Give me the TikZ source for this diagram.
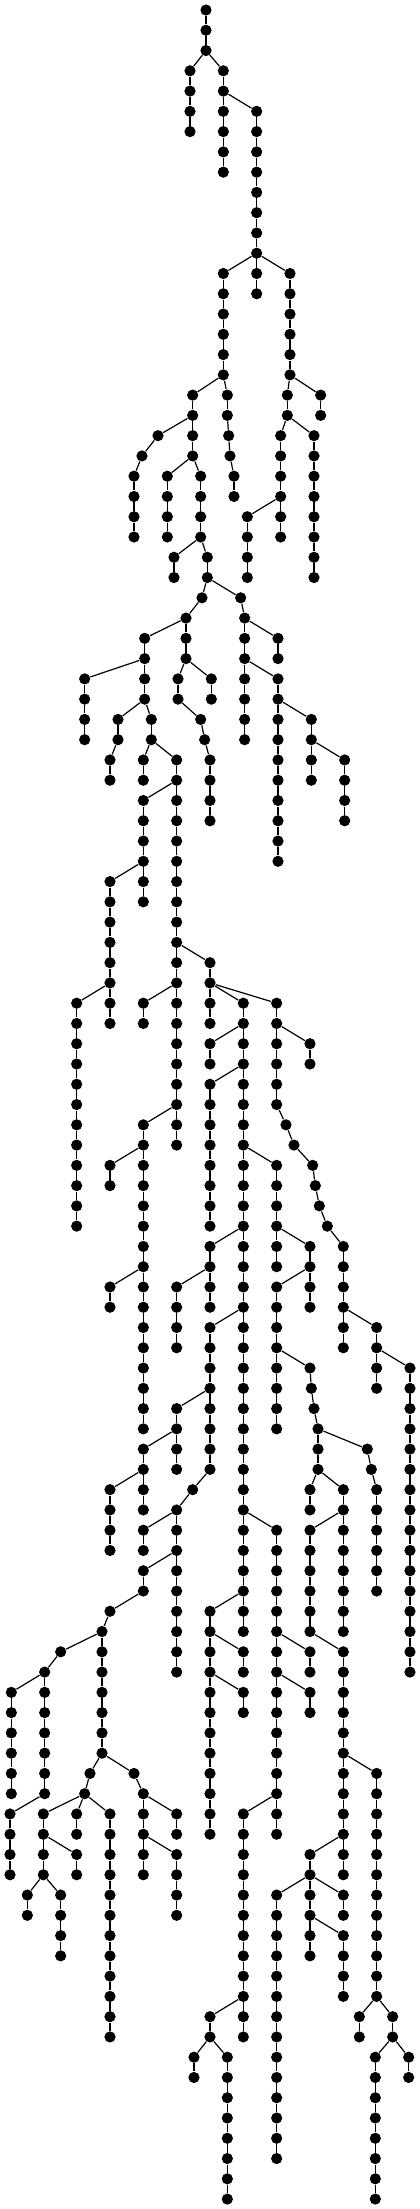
\documentclass[tikz,border=0pt]{standalone}
\begin{document}
\begin{tikzpicture}[x=16.667pt, y=-10.135pt,
    vtx/.style={circle, fill=black, inner sep=0pt, minimum size=5.6pt},
    lnk/.style={line width=0.6pt}]
  \useasboundingbox (-0.3,-0.4934) rectangle (12.3,108.49);

  % root
  \foreach \l in {0,...,2} \node[vtx] (r-\l) at (5.88,\l) {};
  \draw[lnk] (r-0) -- (r-1) -- (r-2);

  % chains: name/column/first level/last level/parent
  \foreach \nm/\x/\a/\b/\up in {
    a/5.40/3/6/r-2, b/6.40/3/8/r-2, c/7.40/5/12/b-4,
    d/6.40/13/18/c-12, e/7.40/13/14/c-12, f/8.40/13/18/c-12,
    g/5.48/19/22/d-18, ha/4.44/21/21/g-20, hb/3.96/22/22/ha-21, hc/3.72/23/26/hb-22,
    i/4.72/23/26/g-22, j/5.72/23/26/g-22, k/4.92/27/28/j-26, l/5.92/27/28/j-26,
    ma/6.52/19/20/d-18, mb/6.56/21/21/ma-20, mc/6.60/22/22/mb-21, md/6.72/23/24/mc-22,
    n/8.32/19/20/f-18, o/9.32/19/20/f-18, p/8.12/21/26/n-20, q/7.12/25/28/p-24,
    s/9.12/21/28/n-20,
    ta/5.76/29/29/l-28, tb/5.28/30/32/ta-29, u/4.04/31/34/tb-30, v/2.24/33/36/u-32,
    wa/3.24/35/36/u-34, wb/3.00/37/38/wa-36, xa/4.24/35/36/u-34,
    y/4.00/37/38/xa-36, z/5.00/37/56/xa-36,
    aa/4.00/39/44/z-38, ab/3.00/43/48/aa-42, ac/2.00/49/60/ab-48, ad/3.00/49/50/ab-48,
    ae/4.00/49/50/z-48, ze/4.00/55/70/z-54, zf/3.00/57/58/ze-56, zg/3.00/63/64/ze-62,
    af/6.00/47/48/z-46, ag/6.00/49/50/af-48, ah/7.00/49/80/af-48, ai/8.00/49/54/af-48,
    aj/9.00/51/52/ai-50,
    aka/8.28/55/55/ai-54, akb/8.52/56/56/aka-55, akc/9.08/57/57/akb-56,
    akd/9.16/58/58/akc-57, ake/9.28/59/59/akd-58, akf/9.52/60/60/ake-59,
    al/10.00/61/66/akf-60, am/11.00/65/68/al-64, an/12.00/67/82/am-66,
    ao/6.00/51/52/ah-50, ap/6.00/53/60/ah-52,
    aq/8.00/57/62/ah-56, ar/9.00/61/64/aq-60, as/8.00/63/70/ar-62,
    ata/9.00/67/67/as-66, atb/9.04/68/68/ata-67, atc/9.12/69/69/atb-68, atd/9.24/70/72/atc-69,
    aua/10.72/71/71/atd-70, aub/10.84/72/72/aua-71, auc/11.00/73/78/aub-72,
    av/9.00/73/74/atd-72, aw/10.00/73/74/atd-72,
    ax/9.00/75/80/aw-74, ay/10.00/75/80/aw-74, az/10.00/81/92/ax-80,
    ba/11.00/87/98/az-86, bb/10.48/99/100/ba-98, bc/11.48/99/100/ba-98,
    bd/10.96/101/108/bc-100, be/11.96/101/102/bc-100,
    bf/9.00/91/92/az-90, bg/8.00/93/106/bf-92, bh/9.00/93/96/bf-92,
    bi/10.00/93/94/bf-92, bj/10.00/95/98/bh-94,
    bk/6.00/61/64/ah-60, bl/5.00/63/66/bk-62,
    bm/6.00/65/72/ah-64, bn/5.00/69/72/bm-68, bo/4.00/71/74/bn-70, bp/3.00/73/76/bo-72,
    bqa/5.48/73/73/bm-72, bqb/5.00/74/82/bqa-73, br/4.00/75/76/bqb-74, bs/4.00/77/78/bqb-76,
    bta/3.00/79/79/bs-78, btb/2.76/80/86/bta-79,
    bua/1.52/81/81/btb-80, bub/1.04/82/88/bua-81, bv/0.04/83/88/bub-82, bw/0.00/89/92/bub-88,
    bxa/2.40/87/87/btb-86, bxb/2.24/88/88/bxa-87,
    by/1.00/89/92/bxb-88, bz/2.00/91/92/by-90, ca/0.52/93/94/by-92, cb/1.52/93/96/by-92,
    cc/2.00/89/90/bxb-88, cd/3.00/89/100/bxb-88,
    cea/3.72/87/87/btb-86, ceb/4.00/88/92/cea-87, cf/5.00/89/90/ceb-88, cg/5.00/91/94/ceb-90,
    ch/8.00/75/90/ah-74, ci/9.00/81/82/ch-80, cj/9.00/83/84/ch-82,
    ck/7.00/89/100/ch-88, cl/6.00/99/100/ck-98, cm/5.52/101/102/cl-100, cn/6.52/101/108/cl-100,
    co/6.00/79/90/ah-78, cp/7.00/81/82/co-80, cq/7.00/83/84/co-82,
    cra/6.92/29/29/l-28, crb/7.04/30/36/cra-29, cs/8.04/31/32/crb-30,
    ct/8.04/33/42/crb-32, cu/9.04/35/38/ct-34, cv/10.04/37/40/cu-36,
    cw/5.04/33/34/tb-32, cx/6.04/33/34/tb-32,
    cya/5.72/35/35/cw-34, cyb/5.84/36/36/cya-35, cz/6.00/37/40/cyb-36}{
    \foreach \l in {\a,...,\b} \node[vtx] (\nm-\l) at (\x,\l) {};
    \draw[lnk] (\up) -- (\nm-\a);
    \ifnum\b>\a
      \pgfmathtruncatemacro{\nxt}{\a+1}
      \foreach \l in {\nxt,...,\b} {
        \pgfmathtruncatemacro{\prv}{\l-1}
        \draw[lnk] (\nm-\prv) -- (\nm-\l);
      }
    \fi
  }
\end{tikzpicture}
\end{document}
